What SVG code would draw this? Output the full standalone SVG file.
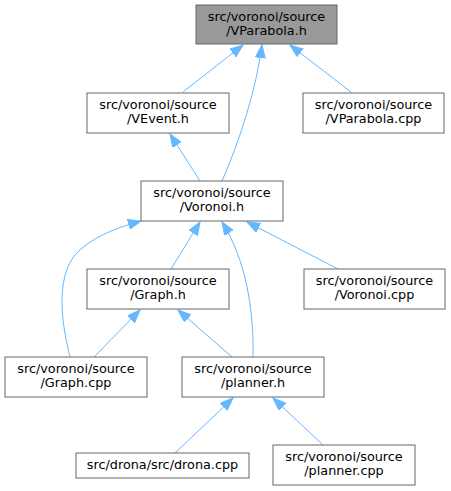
<svg xmlns="http://www.w3.org/2000/svg" width="451" height="491" viewBox="0 0 451 491">
<style>
.box{fill:#ffffff;stroke:#666666;stroke-width:1}
.root{fill:#999999;stroke:#666666;stroke-width:1}
text{font-family:"DejaVu Sans",sans-serif;font-size:12.8px;fill:#000000;text-anchor:middle}
.edge{fill:none;stroke:#63b8ff;stroke-width:1;marker-end:url(#ah)}
</style>
<defs>
<marker id="ah" markerUnits="userSpaceOnUse" markerWidth="14" markerHeight="12" refX="13" refY="5" orient="auto" viewBox="0 0 14 12">
<path d="M0,0 L13,5 L0,10 z" fill="#63b8ff" stroke="#63b8ff" stroke-width="1"/>
</marker>
</defs>
<g id="edges">
<path class="edge" d="M183,92 L243,45"/>
<path class="edge" d="M222,181 C240,140 256,90 262,45"/>
<path class="edge" d="M351,92 L290,45"/>
<path class="edge" d="M200,181 L170,134"/>
<path class="edge" d="M171,269 L200,222"/>
<path class="edge" d="M70,357 C62,325 55,280 75,255 C90,238 115,228 141,221"/>
<path class="edge" d="M253,357 C254,310 246,260 222,222"/>
<path class="edge" d="M338,269 L247,222"/>
<path class="edge" d="M94,357 L140,310"/>
<path class="edge" d="M232,357 L178,310"/>
<path class="edge" d="M175,453 L233,398"/>
<path class="edge" d="M323,445 L273,398"/>
</g>
<g id="n_vparabola_h">
<rect class="root" x="196" y="5" width="141" height="39"/>
<text x="266.5" y="21">src/voronoi/source</text>
<text x="266.5" y="35">/VParabola.h</text>
</g>
<g id="n_vevent_h">
<rect class="box" x="87" y="93" width="142" height="40"/>
<text x="158" y="109">src/voronoi/source</text>
<text x="158" y="123">/VEvent.h</text>
</g>
<g id="n_vparabola_cpp">
<rect class="box" x="303" y="93" width="141" height="40"/>
<text x="373.5" y="109">src/voronoi/source</text>
<text x="373.5" y="123">/VParabola.cpp</text>
</g>
<g id="n_voronoi_h">
<rect class="box" x="141" y="181" width="142" height="40"/>
<text x="212" y="197">src/voronoi/source</text>
<text x="212" y="211">/Voronoi.h</text>
</g>
<g id="n_graph_h">
<rect class="box" x="87" y="269" width="142" height="40"/>
<text x="158" y="285">src/voronoi/source</text>
<text x="158" y="299">/Graph.h</text>
</g>
<g id="n_voronoi_cpp">
<rect class="box" x="304" y="269" width="141" height="40"/>
<text x="374.5" y="285">src/voronoi/source</text>
<text x="374.5" y="299">/Voronoi.cpp</text>
</g>
<g id="n_graph_cpp">
<rect class="box" x="5" y="357" width="142" height="40"/>
<text x="76" y="373">src/voronoi/source</text>
<text x="76" y="387">/Graph.cpp</text>
</g>
<g id="n_planner_h">
<rect class="box" x="182" y="357" width="142" height="40"/>
<text x="253" y="373">src/voronoi/source</text>
<text x="253" y="387">/planner.h</text>
</g>
<g id="n_drona_cpp">
<rect class="box" x="76" y="453" width="173" height="25"/>
<text x="162.5" y="469">src/drona/src/drona.cpp</text>
</g>
<g id="n_planner_cpp">
<rect class="box" x="273" y="445" width="142" height="40"/>
<text x="344" y="461">src/voronoi/source</text>
<text x="344" y="475">/planner.cpp</text>
</g>
</svg>
